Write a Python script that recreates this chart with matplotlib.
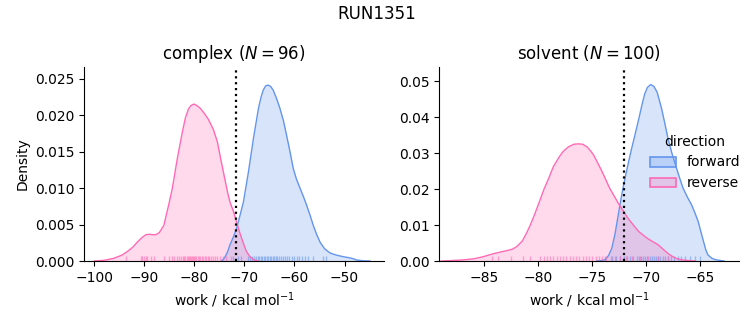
import matplotlib
matplotlib.use("Agg")
import matplotlib.pyplot as plt
from matplotlib.patches import Patch
from matplotlib.colors import to_rgba

# ---------------- data ----------------
suptitle = "RUN1351"
panel_titles = ["complex ($N = 96$)", "solvent ($N = 100$)"]
directions = ["forward", "reverse"]

# complex: KDE curves (work, density)
cx_fwd_x = [-74.6, -74.0, -73.4, -72.9, -72.2, -71.56, -70.9, -70.2, -69.2, -68.2, -67.2, -66.7,
            -66.25, -65.75, -65.25, -64.75, -64.25, -63.6, -62.9, -62.2, -61.6, -60.9, -60.25,
            -59.6, -58.9, -58.2, -57.6, -56.9, -56.25, -55.6, -54.9, -54.0, -52.9, -51.6, -50.3,
            -49.5, -48.9, -48.2, -47.6, -46.3, -44.9]
cx_fwd_y = [0.0, 0.0004, 0.0012, 0.0022, 0.0033, 0.0045, 0.0062, 0.0081, 0.0122, 0.0168, 0.0209,
            0.0224, 0.0234, 0.0240, 0.0241, 0.0239, 0.0234, 0.0223, 0.0209, 0.0192, 0.0173, 0.0150,
            0.0127, 0.0112, 0.0100, 0.0088, 0.0077, 0.0063, 0.0049, 0.0037, 0.0026, 0.0017, 0.0011,
            0.0008, 0.0006, 0.0005, 0.00042, 0.0003, 0.00014, 0.00003, 0.0]
cx_rev_x = [-100.0, -98.0, -96.1, -94.5, -93.4, -92.3, -91.4, -90.5, -89.7, -89.0, -88.3, -87.7,
            -87.0, -86.1, -85.1, -84.4, -83.4, -82.4, -81.8, -81.2, -80.7, -80.1, -79.5, -78.8,
            -78.0, -77.2, -76.2, -75.4, -74.75, -74.0, -73.3, -72.9, -72.2, -71.6, -70.9, -70.2,
            -69.6, -68.9, -68.2, -67.3]
cx_rev_y = [0.0, 0.0001, 0.00037, 0.0008, 0.0013, 0.0019, 0.0026, 0.0032, 0.0036, 0.00366,
            0.0036, 0.0036, 0.0039, 0.0049, 0.0078, 0.0100, 0.0141, 0.0177, 0.0196, 0.0208, 0.0213,
            0.0215, 0.0213, 0.0209, 0.0202, 0.0194, 0.0180, 0.0163, 0.0140, 0.0115, 0.0092, 0.0081,
            0.0068, 0.0054, 0.0038, 0.0024, 0.0013, 0.0006, 0.0002, 0.0]

# solvent: KDE curves
sv_fwd_x = [-74.6, -74.2, -73.8, -73.5, -73.2, -72.9, -72.6, -72.35, -72.1, -71.7, -71.4, -71.05,
            -70.7, -70.4, -70.15, -69.9, -69.6, -69.3, -69.0, -68.6, -68.3, -68.0, -67.65, -67.3,
            -66.95, -66.6, -66.2, -65.8, -65.5, -65.2, -64.95, -64.7, -64.5, -64.3, -63.9, -63.5,
            -62.8]
sv_fwd_y = [0.0, 0.0001, 0.0004, 0.0015, 0.0035, 0.0075, 0.0128, 0.0172, 0.0212, 0.0268, 0.0308,
            0.0351, 0.0395, 0.0435, 0.0465, 0.0483, 0.0491, 0.0486, 0.0470, 0.0426, 0.0385, 0.0342,
            0.0302, 0.0268, 0.0234, 0.0203, 0.0178, 0.0156, 0.0134, 0.0110, 0.0082, 0.0054, 0.0032,
            0.0017, 0.0007, 0.0003, 0.0]
sv_rev_x = [-89.0, -88.2, -87.0, -86.0, -85.1, -84.2, -83.5, -82.9, -82.4, -82.0, -81.5, -81.1,
            -80.7, -80.3, -79.9, -79.5, -79.0, -78.6, -78.1, -77.7, -77.2, -76.7, -76.3, -75.9,
            -75.5, -75.2, -74.9, -74.5, -74.1, -73.75, -73.4, -73.0, -72.6, -72.15, -71.7, -71.2,
            -70.7, -70.25, -69.8, -69.35, -68.9, -68.45, -68.0, -67.6, -67.2, -66.8, -66.4, -65.5]
sv_rev_y = [0.0, 0.0001, 0.0003, 0.0006, 0.0012, 0.0020, 0.0025, 0.0029, 0.0033, 0.0040, 0.0055,
            0.0077, 0.0103, 0.0133, 0.0165, 0.0198, 0.0233, 0.0263, 0.0288, 0.0305, 0.0318, 0.0325,
            0.0326, 0.0325, 0.0318, 0.0308, 0.0296, 0.0273, 0.0249, 0.0226, 0.0203, 0.0182, 0.0161,
            0.0140, 0.0119, 0.0100, 0.0082, 0.0071, 0.0061, 0.0053, 0.0045, 0.0033, 0.0021, 0.0013,
            0.0007, 0.0004, 0.0002, 0.0]

# rug (individual work values)
cx_fwd_rug = [-72.2, -71.2, -70.6, -69.2, -68.8, -68.4, -68.0, -67.6, -67.3, -67.0, -66.7, -66.4,
              -66.1, -65.8, -65.5, -65.2, -64.9, -64.6, -64.3, -64.0, -63.7, -63.4, -63.0, -62.6,
              -62.2, -61.8, -61.4, -61.0, -60.5, -60.0, -59.5, -59.0, -58.4, -57.8, -57.2, -56.3,
              -54.3, -53.6]
cx_rev_rug = [-93.7, -90.7, -90.4, -90.1, -89.7, -89.4, -88.7, -88.1, -86.1, -85.1, -84.4, -84.1,
              -83.4, -83.0, -82.6, -82.3, -82.0, -81.8, -81.5, -81.3, -81.0, -80.8, -80.6, -80.4,
              -80.2, -80.0, -79.8, -79.6, -79.3, -79.0, -78.8, -78.5, -78.2, -77.9, -77.6, -77.3,
              -77.0, -76.6, -76.2, -75.8, -75.4, -74.9, -74.3, -73.6, -72.6]
sv_fwd_rug = [-73.8, -73.2, -72.8, -72.4, -72.1, -71.8, -71.5, -71.2, -70.9, -70.7, -70.5, -70.3,
              -70.1, -69.9, -69.7, -69.5, -69.3, -69.1, -68.9, -68.7, -68.5, -68.3, -68.0, -67.7,
              -67.4, -67.1, -66.8, -66.4, -66.0, -65.5, -65.0]
sv_rev_rug = [-84.3, -83.7, -82.5, -81.4, -80.8, -79.8, -79.5, -79.2, -78.9, -78.6, -78.3, -78.0,
              -77.7, -77.4, -77.1, -76.8, -76.5, -76.2, -75.9, -75.6, -75.3, -75.0, -74.7, -74.4,
              -74.1, -73.7, -73.3, -72.9, -72.4, -71.9, -71.3, -70.6, -69.8, -68.9, -68.0]

# dotted reference lines (free energy estimates)
vlines = [-71.7, -72.06]

xlims = [(-102.06, -42.1), (-89.17, -61.39)]
ylims = [(0, 0.02658), (0, 0.054)]
xticks = [[-100, -90, -80, -70, -60, -50], [-85, -80, -75, -70, -65]]
yticks = [[0.000, 0.005, 0.010, 0.015, 0.020, 0.025], [0.00, 0.01, 0.02, 0.03, 0.04, 0.05]]
ytick_fmt = ["{:.3f}", "{:.2f}"]

colors = {"forward": "#6495ED", "reverse": "#FF69B4"}

# ---------------- drawing ----------------
fig = plt.figure(figsize=(7.53, 3.25), dpi=100)
axes = [fig.add_axes([0.1116, 0.1969, 0.3984, 0.597]),
        fig.add_axes([0.5834, 0.1969, 0.3984, 0.597])]

panels = [
    ((cx_fwd_x, cx_fwd_y, cx_fwd_rug), (cx_rev_x, cx_rev_y, cx_rev_rug)),
    ((sv_fwd_x, sv_fwd_y, sv_fwd_rug), (sv_rev_x, sv_rev_y, sv_rev_rug)),
]

for i, ax in enumerate(axes):
    for d, (xs, ys, rug) in zip(directions, panels[i]):
        c = colors[d]
        ax.fill_between(xs, ys, 0, color=c, alpha=0.25, lw=0)
        ax.plot(xs, ys, color=c, lw=1.0, solid_joinstyle="round")
        ax.vlines(rug, 0, 0.025, transform=ax.get_xaxis_transform(), color=c, lw=1.0, alpha=0.55)
    ax.axvline(vlines[i], color="black", ls=":", lw=1.6)
    ax.set_xlim(*xlims[i])
    ax.set_ylim(*ylims[i])
    ax.set_xticks(xticks[i])
    ax.set_yticks(yticks[i])
    ax.set_yticklabels([ytick_fmt[i].format(v) for v in yticks[i]])
    ax.set_xlabel("work / kcal mol$^{-1}$")
    ax.set_title(panel_titles[i], fontsize=12)
    ax.spines["top"].set_visible(False)
    ax.spines["right"].set_visible(False)

axes[0].set_ylabel("Density")
fig.suptitle(suptitle, fontsize=12, y=0.985)

handles = [Patch(facecolor=to_rgba(colors[d], 0.25), edgecolor=colors[d], lw=1.2) for d in directions]
fig.legend(handles, directions, title="direction", loc="center left",
           bbox_to_anchor=(0.846, 0.5), frameon=False, fontsize=10, title_fontsize=10,
           handlelength=1.9, handletextpad=0.8)

fig.savefig("out.png", dpi=100)
